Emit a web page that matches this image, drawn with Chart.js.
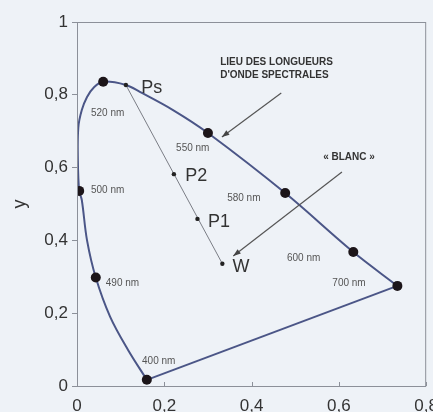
<!DOCTYPE html>
<html>
<head>
<meta charset="utf-8">
<script src="https://cdn.jsdelivr.net/npm/chart.js@4/dist/chart.umd.min.js"></script>
<style>
  html, body { margin: 0; padding: 0; background: #eef2f7; }
  #wrap { width: 433px; height: 412px; overflow: hidden; }
</style>
</head>
<body>
<div id="wrap"><canvas id="cie" width="448" height="412"></canvas></div>
<script>
// spectral locus (x, y chromaticity)
const locusX = [0.160, 0.117, 0.076, 0.043, 0.023, 0.011, 0.005, 0.002, 0.003, 0.011, 0.023, 0.039, 0.060, 0.112, 0.144, 0.220, 0.300, 0.477, 0.633, 0.734];
const locusY = [0.017, 0.099, 0.190, 0.298, 0.400, 0.511, 0.536, 0.620, 0.710, 0.758, 0.794, 0.821, 0.836, 0.827, 0.808, 0.758, 0.695, 0.530, 0.368, 0.275];

// marked wavelengths
const waveNames = ['400 nm', '490 nm', '500 nm', '520 nm', '550 nm', '580 nm', '600 nm', '700 nm'];
const waveX = [0.160, 0.043, 0.005, 0.060, 0.300, 0.477, 0.633, 0.734];
const waveY = [0.017, 0.298, 0.536, 0.836, 0.695, 0.530, 0.368, 0.275];

// points on the Ps - W line
const pointNames = ['Ps', 'P2', 'P1', 'W'];
const pointX = [0.112, 0.222, 0.276, 0.333];
const pointY = [0.827, 0.582, 0.459, 0.336];

const xTickLabels = ['0', '0,2', '0,4', '0,6', '0,8'];
const yTickLabels = ['0', '0,2', '0,4', '0,6', '0,8', '1'];

const toXY = (xs, ys) => xs.map((x, i) => ({ x, y: ys[i] }));

// where the texts go (data coords of left edge / middle)
const waveLabelPos = [[0.149, 0.069], [0.066, 0.283], [0.032, 0.538], [0.032, 0.750], [0.227, 0.654], [0.344, 0.516], [0.481, 0.352], [0.585, 0.283]];
const pointLabelPos = [[0.147, 0.819], [0.248, 0.577], [0.300, 0.451], [0.356, 0.327]];

const TXT = '#333';

const extras = {
  id: 'extras',
  afterDraw(chart) {
    const { ctx, chartArea: a } = chart;
    const sx = chart.scales.x, sy = chart.scales.y;
    const px = v => sx.getPixelForValue(v);
    const py = v => sy.getPixelForValue(v);
    ctx.save();

    // frame
    ctx.strokeStyle = '#8c9099';
    ctx.lineWidth = 1;
    ctx.strokeRect(a.left + 0.5, a.top + 0.5, a.right - a.left - 1, a.bottom - a.top);

    // inward ticks on x
    sx.ticks.forEach(t => {
      const x = Math.round(px(t.value)) + 0.5;
      ctx.beginPath();
      ctx.moveTo(x, a.bottom);
      ctx.lineTo(x, a.bottom - 4);
      ctx.stroke();
    });

    // wavelength labels
    ctx.fillStyle = '#555';
    ctx.font = '10px "Liberation Sans", Arial, sans-serif';
    ctx.textBaseline = 'middle';
    ctx.textAlign = 'left';
    waveNames.forEach((n, i) => ctx.fillText(n, px(waveLabelPos[i][0]), py(waveLabelPos[i][1])));

    // point labels
    ctx.fillStyle = TXT;
    ctx.font = '18px "Liberation Sans", Arial, sans-serif';
    pointNames.forEach((n, i) => ctx.fillText(n, px(pointLabelPos[i][0]), py(pointLabelPos[i][1])));

    // captions
    ctx.font = 'bold 10px "Liberation Sans", Arial, sans-serif';
    ctx.fillText('LIEU DES LONGUEURS', px(0.328), py(0.890));
    ctx.fillText("D'ONDE SPECTRALES", px(0.328), py(0.854));
    ctx.fillText('« BLANC »', px(0.564), py(0.629));

    // arrows
    function arrow(x1, y1, x2, y2) {
      const X1 = px(x1), Y1 = py(y1), X2 = px(x2), Y2 = py(y2);
      const ang = Math.atan2(Y2 - Y1, X2 - X1);
      ctx.strokeStyle = '#555';
      ctx.fillStyle = '#444';
      ctx.lineWidth = 1.2;
      ctx.beginPath();
      ctx.moveTo(X1, Y1);
      ctx.lineTo(X2, Y2);
      ctx.stroke();
      ctx.beginPath();
      ctx.moveTo(X2, Y2);
      ctx.lineTo(X2 - 8 * Math.cos(ang - 0.35), Y2 - 8 * Math.sin(ang - 0.35));
      ctx.lineTo(X2 - 8 * Math.cos(ang + 0.35), Y2 - 8 * Math.sin(ang + 0.35));
      ctx.closePath();
      ctx.fill();
    }
    arrow(0.468, 0.805, 0.332, 0.684);
    arrow(0.607, 0.588, 0.358, 0.357);

    ctx.restore();
  }
};

const tickFont = { family: '"Liberation Sans", Arial, sans-serif', size: 17 };

new Chart(document.getElementById('cie'), {
  type: 'scatter',
  data: {
    datasets: [
      {
        data: toXY(waveX, waveY),
        pointRadius: 5,
        pointBackgroundColor: '#1c1519',
        pointBorderWidth: 0,
        showLine: false,
        order: 1
      },
      {
        data: toXY(pointX, pointY),
        pointRadius: 2.2,
        pointBackgroundColor: '#222',
        pointBorderWidth: 0,
        showLine: false,
        order: 2
      },
      {
        data: toXY(locusX, locusY),
        showLine: true,
        tension: 0.35,
        borderColor: '#4b5687',
        borderWidth: 2,
        pointRadius: 0,
        order: 3
      },
      {
        // purple line
        data: toXY([waveX[7], waveX[0]], [waveY[7], waveY[0]]),
        showLine: true,
        borderColor: '#4b5687',
        borderWidth: 2,
        pointRadius: 0,
        order: 4
      },
      {
        data: toXY([pointX[0], pointX[3]], [pointY[0], pointY[3]]),
        showLine: true,
        borderColor: '#7a7d85',
        borderWidth: 1,
        pointRadius: 0,
        order: 5
      }
    ]
  },
  options: {
    responsive: false,
    animation: false,
    layout: { padding: { top: 22, right: 16, left: 0, bottom: 0 } },
    plugins: { legend: { display: false }, tooltip: { enabled: false } },
    scales: {
      x: {
        min: 0, max: 0.8,
        border: { display: false },
        grid: { drawOnChartArea: false, drawTicks: false },
        ticks: {
          stepSize: 0.2, padding: 10, color: TXT, font: tickFont,
          maxRotation: 0,
          callback: (v, i) => xTickLabels[i]
        },
        afterFit: s => { s.height = 26; }
      },
      y: {
        min: 0, max: 1,
        border: { display: false },
        grid: { drawOnChartArea: false, tickLength: 5, color: '#8c9099' },
        ticks: {
          stepSize: 0.2, padding: 4, color: TXT, font: tickFont,
          callback: (v, i) => yTickLabels[i]
        },
        title: {
          display: true, text: 'y', color: TXT,
          font: { family: '"Liberation Sans", Arial, sans-serif', size: 18 },
          padding: { top: 9, bottom: 0 }
        },
        afterFit: s => { s.width = 77; }
      }
    }
  },
  plugins: [extras]
});
</script>
</body>
</html>
